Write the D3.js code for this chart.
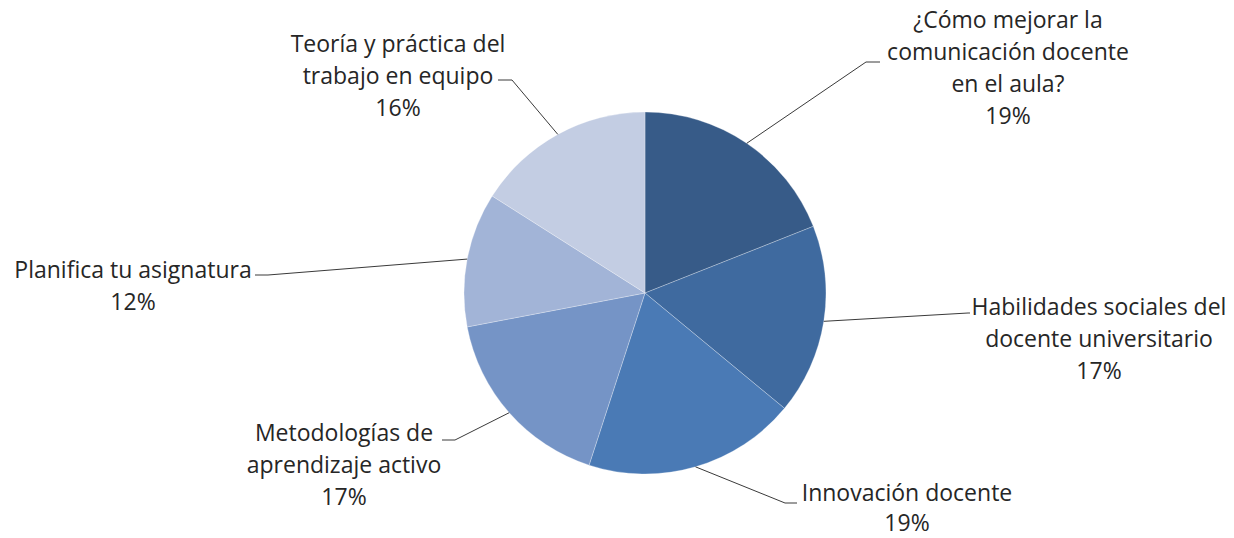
<!DOCTYPE html>
<html>
<head>
<meta charset="utf-8">
<script src="https://cdn.jsdelivr.net/npm/d3@7"></script>
<style>
  html, body { margin: 0; padding: 0; background: #fff; }
  svg text { font-family: "Open Sans", "Lato", sans-serif; fill: #262626; }
</style>
</head>
<body>
<svg id="chart" width="1234" height="538"></svg>
<script>
// ---- data ----
const categories = [
  "¿Cómo mejorar la comunicación docente en el aula?",
  "Habilidades sociales del docente universitario",
  "Innovación docente",
  "Metodologías de aprendizaje activo",
  "Planifica tu asignatura",
  "Teoría y práctica del trabajo en equipo"
];
const values = [19, 17, 19, 17, 12, 16];
const percentLabels = ["19%", "17%", "19%", "17%", "12%", "16%"];
const labelLines = [
  ["¿Cómo mejorar la", "comunicación docente", "en el aula?"],
  ["Habilidades sociales del", "docente universitario"],
  ["Innovación docente"],
  ["Metodologías de", "aprendizaje activo"],
  ["Planifica tu asignatura"],
  ["Teoría y práctica del", "trabajo en equipo"]
];

// ---- layout / style (not data) ----
const colors = ["#375B88", "#3F6A9F", "#4A7AB5", "#7594C6", "#A2B4D7", "#C3CDE3"];
const cx = 645, cy = 293, R = 181;
const lineH = 32;
const labelLayout = [
  { x: 1008, y: 20,  elbow: [866, 62],  end: [880, 62], lh: 32 },
  { x: 1099, y: 307, elbow: [968, 313], end: [970, 313], lh: 32 },
  { x: 907,  y: 493, elbow: [785, 503], end: [797, 503], lh: 30 },
  { x: 344,  y: 433, elbow: [455, 440], end: [442, 440], lh: 32 },
  { x: 133,  y: 270, elbow: [268, 275], end: [255, 275], lh: 32 },
  { x: 398,  y: 44,  elbow: [512, 80],  end: [498, 80], lh: 32 }
];
const fontSize = 23;

const svg = d3.select("#chart");
const g = svg.append("g").attr("transform", `translate(${cx},${cy})`);

const pie = d3.pie().sort(null).value(d => d);
const arcs = pie(values);
const arc = d3.arc().innerRadius(0).outerRadius(R);

g.selectAll("path.slice")
  .data(arcs)
  .join("path")
  .attr("class", "slice")
  .attr("d", arc)
  .attr("fill", (d, i) => colors[i])
  .attr("stroke", "rgba(255,255,255,0.35)")
  .attr("stroke-width", 0.8);

// leader lines
const edge = d3.arc().innerRadius(R).outerRadius(R);
arcs.forEach((d, i) => {
  const p = edge.centroid(d);
  const L = labelLayout[i];
  const pts = [[p[0] + cx, p[1] + cy], L.elbow, L.end];
  svg.append("path")
    .attr("d", d3.line()(pts))
    .attr("fill", "none")
    .attr("stroke", "#3a3a3a")
    .attr("stroke-width", 1);
});

// labels
labelLines.forEach((lines, i) => {
  const L = labelLayout[i];
  const all = lines.concat([percentLabels[i]]);
  const t = svg.append("text")
    .attr("text-anchor", "middle")
    .attr("font-size", fontSize);
  all.forEach((s, k) => {
    t.append("tspan")
      .attr("x", L.x)
      .attr("y", L.y + k * L.lh)
      .attr("dy", "0.35em")
      .text(s);
  });
});
</script>
</body>
</html>
